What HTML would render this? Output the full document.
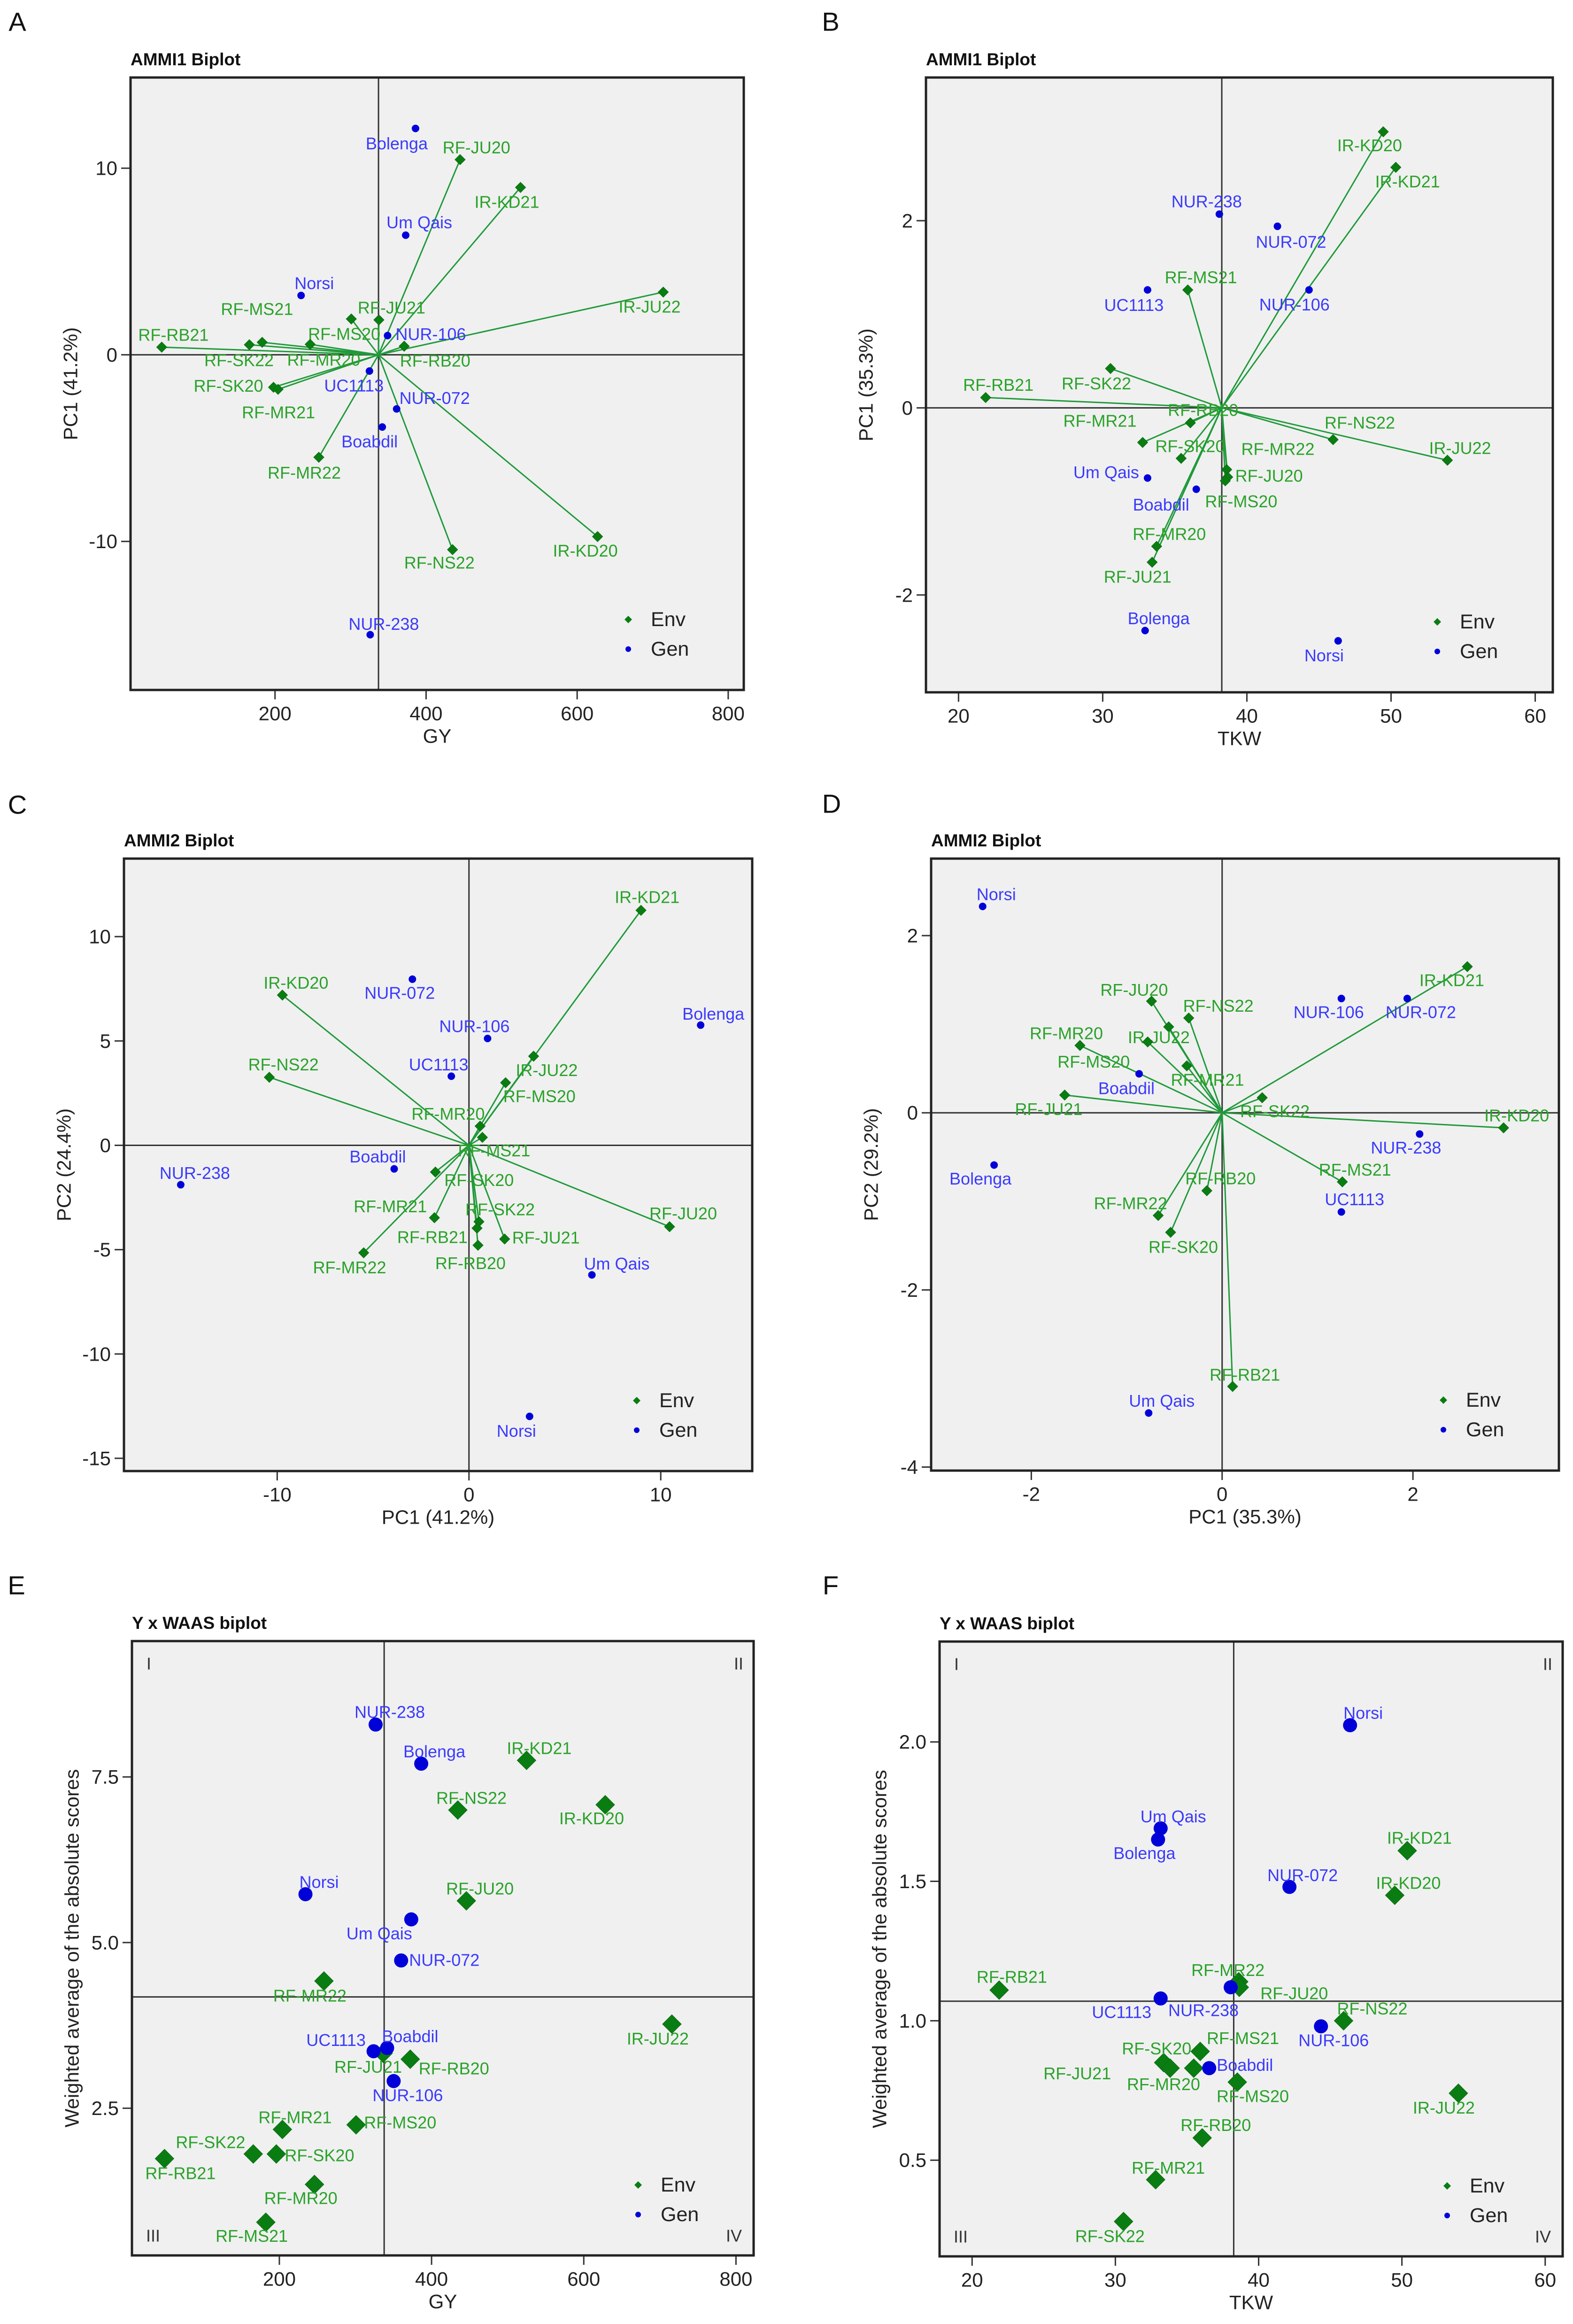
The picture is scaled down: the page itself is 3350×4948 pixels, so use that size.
<!DOCTYPE html>
<html><head><meta charset="utf-8">
<style>
html,body{margin:0;padding:0;background:#fff;}
svg{display:block;font-family:"Liberation Sans",Arial,sans-serif;}
</style></head>
<body>
<svg id="fig" xmlns="http://www.w3.org/2000/svg" width="3350" height="4948" viewBox="0 0 3350 4948">
<rect x="0" y="0" width="3350" height="4948" fill="#fff"/>
</svg>
<script>
// ---------- Panel A data (GY vs PC1) ----------
const A_envNames=["RF-JU20","IR-KD21","IR-JU22","RF-JU21","RF-MS20","RF-RB20","RF-RB21","RF-SK22","RF-MS21","RF-MR20","RF-SK20","RF-MR21","RF-MR22","RF-NS22","IR-KD20"];
const A_envX=[445,525,714,337.5,301,371,50,166,183,246.5,198,204,258,435,627];
const A_envY=[10.46,8.97,3.36,1.87,1.92,0.46,0.41,0.54,0.67,0.56,-1.74,-1.85,-5.49,-10.44,-9.74];
const A_genNames=["Bolenga","Um Qais","Norsi","NUR-106","UC1113","NUR-072","Boabdil","NUR-238"];
const A_genX=[386,373,234.5,349,325,361,342,326];
const A_genY=[12.13,6.41,3.18,1.03,-0.87,-2.9,-3.87,-15.0];
const A_xTicks=[200,400,600,800];
const A_yTicks=[-10,0,10];
const A_center=[337,0];
// ---------- Panel B data (TKW vs PC1) ----------
const B_envNames=["IR-KD20","IR-KD21","RF-MS21","RF-SK22","RF-RB21","RF-RB20","RF-MR21","RF-SK20","RF-MR22","RF-JU20","RF-MS20","RF-NS22","IR-JU22","RF-MR20","RF-JU21"];
const B_envX=[49.46,50.33,35.9,30.54,21.88,36.08,32.77,35.44,38.6,38.67,38.5,45.98,53.91,33.74,33.43];
const B_envY=[2.95,2.57,1.26,0.42,0.11,-0.16,-0.37,-0.54,-0.66,-0.74,-0.78,-0.34,-0.56,-1.48,-1.65];
const B_genNames=["NUR-238","NUR-072","UC1113","NUR-106","Um Qais","Boabdil","Bolenga","Norsi"];
const B_genX=[38.09,42.12,33.11,44.31,33.11,36.49,32.94,46.33];
const B_genY=[2.07,1.94,1.26,1.26,-0.75,-0.87,-2.38,-2.49];
const B_xTicks=[20,30,40,50,60];
const B_yTicks=[-2,0,2];
const B_center=[38.26,0];
// ---------- Panel C data (PC1 vs PC2, GY) ----------
const C_envNames=["IR-KD21","IR-KD20","RF-NS22","IR-JU22","RF-MS20","RF-MR20","RF-MS21","RF-SK20","RF-MR21","RF-SK22","RF-RB21","RF-RB20","RF-JU21","RF-JU20","RF-MR22"];
const C_envX=[8.97,-9.73,-10.41,3.37,1.91,0.58,0.7,-1.75,-1.8,0.52,0.42,0.47,1.86,10.46,-5.49];
const C_envY=[11.26,7.2,3.26,4.27,3.0,0.92,0.38,-1.28,-3.47,-3.66,-3.97,-4.79,-4.49,-3.9,-5.15];
const C_genNames=["NUR-072","NUR-106","UC1113","Bolenga","Boabdil","NUR-238","Um Qais","Norsi"];
const C_genX=[-2.95,0.97,-0.92,12.08,-3.9,-15.03,6.41,3.16];
const C_genY=[7.96,5.12,3.31,5.76,-1.13,-1.89,-6.21,-12.99];
const C_xTicks=[-10,0,10];
const C_yTicks=[-15,-10,-5,0,5,10];
const C_center=[0,0];
// ---------- Panel D data (PC1 vs PC2, TKW) ----------
const D_envNames=["IR-KD21","RF-JU20","RF-NS22","IR-JU22","RF-MS20","RF-MR20","RF-MR21","RF-JU21","RF-SK22","IR-KD20","RF-MS21","RF-RB20","RF-MR22","RF-SK20","RF-RB21"];
const D_envX=[2.57,-0.74,-0.35,-0.56,-0.78,-1.49,-0.37,-1.65,0.42,2.95,1.26,-0.16,-0.67,-0.54,0.11];
const D_envY=[1.65,1.26,1.07,0.97,0.8,0.76,0.53,0.2,0.17,-0.17,-0.78,-0.88,-1.16,-1.35,-3.09];
const D_genNames=["Norsi","NUR-106","NUR-072","Boabdil","Bolenga","NUR-238","UC1113","Um Qais"];
const D_genX=[-2.51,1.25,1.94,-0.87,-2.39,2.07,1.25,-0.77];
const D_genY=[2.33,1.29,1.29,0.44,-0.59,-0.24,-1.12,-3.39];
const D_xTicks=[-2,0,2];
const D_yTicks=[-4,-2,0,2];
const D_center=[0,0];
// ---------- Panel E data (GY vs WAAS) ----------
const E_envNames=["IR-KD21","IR-KD20","RF-NS22","RF-JU20","RF-MR22","IR-JU22","RF-JU21","RF-RB20","RF-MS20","RF-MR21","RF-SK22","RF-SK20","RF-RB21","RF-MR20","RF-MS21"];
const E_envX=[524.8,628.2,434.5,445.7,258.6,715.8,336.4,372,300.8,204,165.7,196,49.1,246.1,182.2];
const E_envY=[7.75,7.08,7.0,5.63,4.42,3.77,3.33,3.24,2.25,2.18,1.81,1.81,1.74,1.35,0.78];
const E_genNames=["NUR-238","Bolenga","Norsi","Um Qais","NUR-072","UC1113","Boabdil","NUR-106"];
const E_genX=[326.5,386.4,234.3,373.3,360,323.8,341.6,350.2];
const E_genY=[8.29,7.7,5.73,5.35,4.73,3.36,3.41,2.91];
const E_xTicks=[200,400,600,800];
const E_yTicks=[2.5,5.0,7.5];
const E_yTickLabels=["2.5","5.0","7.5"];
const E_means=[337.7,4.18];
// ---------- Panel F data (TKW vs WAAS) ----------
const F_envNames=["IR-KD21","IR-KD20","RF-MR22","RF-JU20","RF-RB21","RF-NS22","RF-MS21","RF-JU21","RF-SK20","RF-MR20","RF-MS20","IR-JU22","RF-RB20","RF-MR21","RF-SK22"];
const F_envX=[50.37,49.5,38.61,38.65,21.89,45.93,35.92,33.37,35.47,33.82,38.51,53.94,36.06,32.81,30.57];
const F_envY=[1.61,1.45,1.14,1.12,1.11,1.0,0.89,0.85,0.83,0.83,0.78,0.74,0.58,0.43,0.28];
const F_genNames=["Norsi","Um Qais","Bolenga","NUR-072","NUR-238","UC1113","NUR-106","Boabdil"];
const F_genX=[46.38,33.16,32.98,42.15,38.05,33.16,44.35,36.55];
const F_genY=[2.06,1.69,1.65,1.48,1.12,1.08,0.98,0.83];
const F_xTicks=[20,30,40,50,60];
const F_yTicks=[0.5,1.0,1.5,2.0];
const F_yTickLabels=["0.5","1.0","1.5","2.0"];
const F_means=[38.26,1.07];

// ---------- Layout/style (pixel offsets for labels) ----------
const layout={
 A:{letter:"A",lx:37,ly:46,title:"AMMI1 Biplot",box:[278,165,1584,1469],xd:[8.7,820.6],yd:[-17.96,14.86],xt:"GY",yt:"PC1 (41.2%)",
   envOff:[[35,-26],[-29,31],[-29,31],[27,-26],[-15,32],[66,31],[25,-26],[-22,33],[-11,-71],[29,33],[-96,-3],[1,49],[-31,33],[-28,28],[-26,30]],
   genOff:[[-40,32],[29,-27],[28,-26],[92,-3],[-33,31],[81,-23],[-27,31],[29,-23]],small:true},
 B:{letter:"B",lx:1769,ly:46,title:"AMMI1 Biplot",box:[1972,165,3307,1474],xd:[17.74,61.22],yd:[-3.04,3.53],xt:"TKW",yt:"PC1 (35.3%)",
   envOff:[[-29,29],[25,30],[28,-27],[-30,32],[27,-27],[27,-27],[-91,-46],[19,-26],[109,-44],[88,-3],[34,44],[57,-36],[27,-26],[27,-26],[-31,31]],
   genOff:[[-27,-27],[29,33],[-29,32],[-31,31],[-88,-12],[-75,33],[29,-26],[-30,31]],small:true},
 C:{letter:"C",lx:37,ly:1713,title:"AMMI2 Biplot",box:[264,1828,1602,3132],xd:[-17.99,14.77],yd:[-15.61,13.74],xt:"PC1 (41.2%)",yt:"PC2 (24.4%)",
   envOff:[[13,-28],[29,-26],[30,-27],[28,30],[72,29],[-68,-26],[25,28],[93,17],[-94,-24],[45,-26],[-95,19],[-16,38],[88,-3],[29,-28],[-30,31]],
   genOff:[[-27,29],[-28,-26],[-27,-25],[27,-24],[-35,-26],[30,-25],[53,-24],[-28,31]],small:true},
 D:{letter:"D",lx:1771,ly:1711,title:"AMMI2 Biplot",box:[1983,1828,3320,3131],xd:[-3.05,3.53],yd:[-4.04,2.87],xt:"PC1 (35.3%)",yt:"PC2 (29.2%)",
   envOff:[[-33,29],[-37,-24],[63,-26],[-21,22],[-115,42],[-29,-26],[44,30],[-34,30],[27,29],[28,-26],[27,-26],[29,-26],[-59,-26],[27,31],[26,-25]],
   genOff:[[29,-26],[-27,29],[29,29],[-27,31],[-29,29],[-29,29],[28,-27],[28,-26]],small:true},
 E:{letter:"E",lx:35,ly:3375,title:"Y x WAAS biplot",box:[281,3494,1605,4802],xd:[6.3,823.2],yd:[0.279,9.55],xt:"GY",yt:"Weighted average of the absolute scores",
   envOff:[[27,-26],[-29,29],[29,-26],[29,-26],[-30,31],[-30,31],[-32,29],[93,20],[94,-5],[27,-26],[-91,-25],[92,3],[34,31],[-29,29],[-30,29]],
   genOff:[[30,-27],[28,-26],[29,-26],[-68,30],[92,-1],[-80,-24],[49,-25],[30,30]],small:false},
 F:{letter:"F",lx:1769,ly:3375,title:"Y x WAAS biplot",box:[2001,3495,3328,4804],xd:[17.73,61.22],yd:[0.155,2.36],xt:"TKW",yt:"Weighted average of the absolute scores",
   envOff:[[26,-27],[29,-26],[-23,-25],[117,13],[27,-28],[61,-26],[91,-28],[-184,23],[-79,-42],[-14,34],[33,30],[-31,31],[29,-27],[27,-25],[-29,31]],
   genOff:[[28,-26],[27,-25],[-29,29],[28,-25],[-58,49],[-83,29],[27,30],[76,-7]],small:false}
};
const panels={
 A:{en:A_envNames,ex:A_envX,ey:A_envY,gn:A_genNames,gx:A_genX,gy:A_genY,xt:A_xTicks,yt:A_yTicks,ytl:null,center:A_center,means:[A_center[0],0]},
 B:{en:B_envNames,ex:B_envX,ey:B_envY,gn:B_genNames,gx:B_genX,gy:B_genY,xt:B_xTicks,yt:B_yTicks,ytl:null,center:B_center,means:[B_center[0],0]},
 C:{en:C_envNames,ex:C_envX,ey:C_envY,gn:C_genNames,gx:C_genX,gy:C_genY,xt:C_xTicks,yt:C_yTicks,ytl:null,center:C_center,means:[0,0]},
 D:{en:D_envNames,ex:D_envX,ey:D_envY,gn:D_genNames,gx:D_genX,gy:D_genY,xt:D_xTicks,yt:D_yTicks,ytl:null,center:D_center,means:[0,0]},
 E:{en:E_envNames,ex:E_envX,ey:E_envY,gn:E_genNames,gx:E_genX,gy:E_genY,xt:E_xTicks,yt:E_yTicks,ytl:E_yTickLabels,center:null,means:E_means},
 F:{en:F_envNames,ex:F_envX,ey:F_envY,gn:F_genNames,gx:F_genX,gy:F_genY,xt:F_xTicks,yt:F_yTicks,ytl:F_yTickLabels,center:null,means:F_means}
};
const NS="http://www.w3.org/2000/svg";
const svg=document.getElementById("fig");
function mk(tag,attrs,parent,text){
  const el=document.createElementNS(NS,tag);
  for(const k in attrs) el.setAttribute(k,attrs[k]);
  if(text!==undefined) el.textContent=text;
  parent.appendChild(el);
  return el;
}
const LINE="#1f9a3a", ENVPT="#0a7d12", ENVTXT="#2aa22a", GENPT="#0000d8", GENTXT="#3a3aff";
function diamond(cx,cy,r){return `M${cx},${cy-r} L${cx+r},${cy} L${cx},${cy+r} L${cx-r},${cy} Z`;}

for(const key of ["A","B","C","D","E","F"]){
  const L=layout[key], P=panels[key];
  const [x0,y0,x1,y1]=L.box;
  const sx=v=>x0+(v-L.xd[0])/(L.xd[1]-L.xd[0])*(x1-x0);
  const sy=v=>y1-(v-L.yd[0])/(L.yd[1]-L.yd[0])*(y1-y0);
  const g=mk("g",{},svg);
  
  
  const lt=mk("text",{x:L.lx,y:L.ly,"font-size":56,"text-anchor":"middle","dominant-baseline":"central",fill:"#111"},g,L.letter);
  
  
  const tt=mk("text",{x:x0,y:y0-26,"font-size":37,"font-weight":"bold",fill:"#111"},g,L.title);
  
  
  const bg=mk("rect",{x:x0,y:y0,width:x1-x0,height:y1-y0,fill:"#f0f0f0",stroke:"none"},g);
  
  
  // ref lines
  const vl=mk("line",{x1:sx(P.means[0]),x2:sx(P.means[0]),y1:y0,y2:y1,stroke:"#333","stroke-width":3},g);
  
  
  const hl=mk("line",{x1:x0,x2:x1,y1:sy(P.means[1]),y2:sy(P.means[1]),stroke:"#333","stroke-width":3},g);
  
  
  // ticks
  P.xt.forEach((t,i)=>{
    const X=sx(t);
    const tk=mk("line",{x1:X,x2:X,y1:y1,y2:y1+20,stroke:"#333","stroke-width":3},g);
    
    
    const tl=mk("text",{x:X,y:y1+50,"font-size":42,"text-anchor":"middle","dominant-baseline":"central",fill:"#222"},g,String(t));
    
    
  });
  P.yt.forEach((t,i)=>{
    const Y=sy(t);
    const tk=mk("line",{x1:x0-20,x2:x0,y1:Y,y2:Y,stroke:"#333","stroke-width":3},g);
    
    
    const tl=mk("text",{x:x0-28,y:Y,"font-size":42,"text-anchor":"end","dominant-baseline":"central",fill:"#222"},g,P.ytl?P.ytl[i]:String(t));
    
    
  });
  const xa=mk("text",{x:(x0+x1)/2,y:y1+98,"font-size":42,"text-anchor":"middle","dominant-baseline":"central",fill:"#222"},g,L.xt);
  
  
  const yx=x0-128, yy=(y0+y1)/2;
  const ya=mk("text",{x:yx,y:yy,"font-size":42,"text-anchor":"middle","dominant-baseline":"central",fill:"#222",transform:`rotate(-90 ${yx} ${yy})`},g,L.yt);
  
  
  // biplot vectors
  if(P.center){
    P.en.forEach((n,i)=>{
      const ln=mk("line",{x1:sx(P.center[0]),y1:sy(P.center[1]),x2:sx(P.ex[i]),y2:sy(P.ey[i]),stroke:LINE,"stroke-width":3},g);
      
      
    });
  }
  const dr=L.small?11:20, cr=L.small?8:15;
  // env points
  P.en.forEach((n,i)=>{
    const X=sx(P.ex[i]), Y=sy(P.ey[i]);
    const pt=mk("path",{d:diamond(X,Y,dr),fill:ENVPT,stroke:"#0a6a10","stroke-width":1},g);
    
    
    const o=L.envOff[i];
    const lb=mk("text",{x:X+o[0],y:Y+o[1],"font-size":36,"text-anchor":"middle","dominant-baseline":"central",fill:ENVTXT},g,n);
    
    
  });
  P.gn.forEach((n,i)=>{
    const X=sx(P.gx[i]), Y=sy(P.gy[i]);
    const pt=mk("circle",{cx:X,cy:Y,r:cr,fill:GENPT},g);
    
    
    const o=L.genOff[i];
    const lb=mk("text",{x:X+o[0],y:Y+o[1],"font-size":36,"text-anchor":"middle","dominant-baseline":"central",fill:GENTXT},g,n);
    
    
  });
  // border
  const bd=mk("rect",{x:x0,y:y0,width:x1-x0,height:y1-y0,fill:"none",stroke:"#222","stroke-width":5},g);
  
  
  // quadrant labels
  if(!P.center){
    [["I",x0+36,y0+48],["II",x1-32,y0+48],["III",x0+45,y1-42],["IV",x1-42,y1-42]].forEach(q=>{
      const ql=mk("text",{x:q[1],y:q[2],"font-size":36,"text-anchor":"middle","dominant-baseline":"central",fill:"#333"},g,q[0]);
      
      
    });
  }
  // legend
  const lgx=x1-246, lgy=y1-150;
  const lg=mk("g",{},g);
  
  
  const le=mk("path",{d:diamond(lgx,lgy,8),fill:ENVPT},lg);
  
  
  const lte=mk("text",{x:lgx+48,y:lgy,"font-size":43,"dominant-baseline":"central",fill:"#222"},lg,"Env");
  
  
  const lgn=mk("circle",{cx:lgx,cy:lgy+63,r:6,fill:GENPT},lg);
  
  
  const ltg=mk("text",{x:lgx+48,y:lgy+63,"font-size":43,"dominant-baseline":"central",fill:"#222"},lg,"Gen");
  
  
}
</script>
</body></html>
